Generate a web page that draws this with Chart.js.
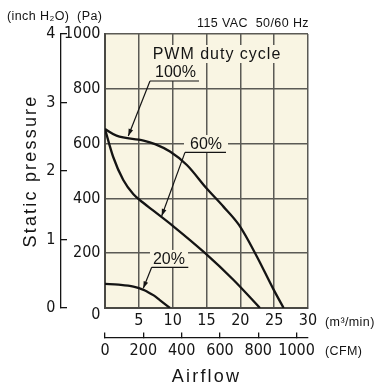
<!DOCTYPE html>
<html>
<head>
<meta charset="utf-8">
<script src="https://cdn.jsdelivr.net/npm/chart.js@4/dist/chart.umd.min.js"></script>
<style>
  html, body { margin: 0; padding: 0; background: #ffffff; }
  #wrap { width: 377px; height: 389px; }
</style>
</head>
<body>
<div id="wrap"><canvas id="c" width="377" height="389"></canvas></div>
<script>
// ---------------- data ----------------
// Airflow in m3/min, static pressure in Pa
const flow100 = [0, 1.7, 5.7, 7.4, 9.6, 12.1, 15.0, 17.5, 19.8, 22.4, 24.9, 26.4];
const pa100   = [653, 629, 611, 598, 571, 522, 437, 370, 303, 190, 68, 0];

const flow60  = [0, 1.2, 2.7, 4.2, 5.6, 7.1, 10.1, 14.8, 19.0, 22.9];
const pa60    = [653, 552, 467, 415, 385, 356, 298, 200, 102, 0];

const flow20  = [0, 2.0, 4.2, 5.7, 6.2, 7.2, 8.1, 9.6];
const pa20    = [88, 85, 78, 66, 60, 46, 29, 0];

// tick values
const m3Ticks   = [0, 5, 10, 15, 20, 25, 30];
const cfmTicks  = [0, 200, 400, 600, 800, 1000];
const paTicks   = [0, 200, 400, 600, 800, 1000];
const inchTicks = [0, 1, 2, 3, 4];

const CFM_PER_M3 = 35.3147;

// ---------------- styles ----------------
const NARROW = "'Liberation Sans Narrow','Arial Narrow','DejaVu Sans Condensed',sans-serif";
const SANS = "'Liberation Sans',Arial,Helvetica,sans-serif";
const INK = '#141414';
const GRID = '#5b5a55';
const PLOT_BG = '#f9f5e3';

// annotation layout (data units of the x / y scales)
const notes = [
  { text: 'PWM duty cycle', at: [7.04, 927], spacing: 1, padX: 2 },
  { text: '100%', at: [7.39, 861], rule: [6.65, 13.89, 828.5], tip: [3.44, 628], spacing: 0, padX: 2 },
  { text: '60%',  at: [12.56, 598.5], rule: [11.82, 17.88, 568], tip: [8.38, 336], spacing: 0, padX: 6 },
  { text: '20%',  at: [7.09, 179], rule: [6.90, 12.31, 148.5], tip: [5.66, 72], spacing: 0, padX: 3 }
];

const toPts = (xs, ys) => xs.map((x, i) => ({ x: x, y: ys[i] }));
const setTicks = arr => scale => { scale.ticks = arr.map(v => ({ value: v })); };

const plotBg = {
  id: 'plotBg',
  beforeDraw(chart) {
    const { ctx, chartArea: a } = chart;
    ctx.save();
    ctx.fillStyle = PLOT_BG;
    ctx.fillRect(a.left, a.top, a.right - a.left, a.bottom - a.top);
    ctx.restore();
    ctx.letterSpacing = '2.2px';   // axis titles (drawn with the grid layer)
  },
  beforeDatasetsDraw(chart) {
    chart.ctx.letterSpacing = '0px'; // tick labels (drawn after datasets)
  }
};

function arrow(ctx, x0, y0, x1, y1) {
  ctx.beginPath();
  ctx.moveTo(x0, y0);
  ctx.lineTo(x1, y1);
  ctx.stroke();
  const ang = Math.atan2(y1 - y0, x1 - x0);
  const L = 7, W = 2.4;
  ctx.beginPath();
  ctx.moveTo(x1, y1);
  ctx.lineTo(x1 - L * Math.cos(ang) + W * Math.sin(ang), y1 - L * Math.sin(ang) - W * Math.cos(ang));
  ctx.lineTo(x1 - L * Math.cos(ang) - W * Math.sin(ang), y1 - L * Math.sin(ang) + W * Math.cos(ang));
  ctx.closePath();
  ctx.fill();
}

const annotations = {
  id: 'annotations',
  afterDraw(chart) {
    const { ctx, chartArea: a } = chart;
    const xs = chart.scales.x, ys = chart.scales.y;
    ctx.save();
    ctx.letterSpacing = '0px';
    ctx.fillStyle = INK;
    ctx.strokeStyle = INK;
    ctx.textBaseline = 'middle';

    // labels on the curves
    ctx.font = '16px ' + SANS;
    notes.forEach(n => {
      ctx.letterSpacing = n.spacing + 'px';
      const px = xs.getPixelForValue(n.at[0]);
      const py = ys.getPixelForValue(n.at[1]);
      const w = ctx.measureText(n.text).width;
      ctx.fillStyle = PLOT_BG;
      ctx.fillRect(px - n.padX, py - 9, w + 2 * n.padX, 18);
      ctx.fillStyle = INK;
      ctx.textAlign = 'left';
      ctx.fillText(n.text, px, py + 1);
      if (n.rule) {
        const rx1 = xs.getPixelForValue(n.rule[0]);
        const rx2 = xs.getPixelForValue(n.rule[1]);
        const ry = ys.getPixelForValue(n.rule[2]);
        ctx.lineWidth = 1.2;
        ctx.beginPath();
        ctx.moveTo(rx1, ry);
        ctx.lineTo(rx2, ry);
        ctx.stroke();
        arrow(ctx, rx1, ry, xs.getPixelForValue(n.tip[0]), ys.getPixelForValue(n.tip[1]));
      }
    });

    // unit captions
    ctx.font = '12.5px ' + SANS;
    ctx.letterSpacing = '0.4px';
    ctx.textAlign = 'left';
    ctx.fillText('(inch H\u2082O)  (Pa)', 7, 17);
    ctx.textAlign = 'right';
    ctx.fillText('115 VAC  50/60 Hz', a.right + 1, 24);
    ctx.textAlign = 'left';
    ctx.fillText('(m\u00B3/min)', a.right + 17, 323);
    ctx.fillText('(CFM)', a.right + 17, 352);
    ctx.restore();
  }
};

const tickFont = { family: NARROW, size: 16 };
const curve = (label, xs, ys) => ({
  label: label,
  data: toPts(xs, ys),
  showLine: true,
  borderColor: INK,
  backgroundColor: INK,
  borderWidth: 2.3,
  pointRadius: 0,
  cubicInterpolationMode: 'monotone'
});

new Chart(document.getElementById('c'), {
  type: 'scatter',
  data: {
    datasets: [
      curve('100%', flow100, pa100),
      curve('60%', flow60, pa60),
      curve('20%', flow20, pa20)
    ]
  },
  options: {
    responsive: false,
    animation: false,
    devicePixelRatio: 1,
    layout: { padding: { top: 34, right: 69, left: 0, bottom: 0 } },
    plugins: { legend: { display: false }, tooltip: { enabled: false } },
    scales: {
      x: {
        type: 'linear', position: 'bottom', weight: 0,
        min: 0, max: 30,
        afterBuildTicks: setTicks(m3Ticks),
        afterFit(s) { s.height = 29.5; },
        grid: { color: GRID, lineWidth: 1.5, drawTicks: false },
        border: { color: '#4a4944', width: 2 },
        ticks: {
          font: tickFont, color: INK, padding: 3, z: 1,
          autoSkip: false, maxRotation: 0,
          callback: v => (v === 0 ? '' : String(v))
        }
      },
      x2: {
        type: 'linear', position: 'bottom', weight: 1,
        min: 0, max: 30 * CFM_PER_M3,
        afterBuildTicks: setTicks(cfmTicks),
        afterFit(s) { s.height = 389 - 337.5; },
        grid: { drawOnChartArea: false, tickLength: -5, color: INK, lineWidth: 1.3 },
        border: { color: INK, width: 1.3 },
        ticks: {
          font: tickFont, color: INK, padding: 8.5, z: 1, autoSkip: false, maxRotation: 0,
          callback: v => String(v)
        },
        title: {
          display: true, text: 'Airflow', color: INK,
          font: { family: SANS, size: 18 },
          padding: { top: 0, bottom: 1.5 }
        }
      },
      y: {
        type: 'linear', position: 'left', weight: 0,
        min: 0, max: 1000,
        afterBuildTicks: setTicks(paTicks),
        afterFit(s) { s.width = 44; },
        grid: { color: GRID, lineWidth: 1.5, drawTicks: false },
        border: { color: '#4a4944', width: 2 },
        ticks: {
          font: { family: NARROW, size: 16, lineHeight: 0.8 }, color: INK, padding: 4.5, z: 1,
          autoSkip: false,
          callback: v => (v === 0 ? ['', '0'] : String(v))
        }
      },
      yIn: {
        type: 'linear', position: 'left', weight: 1,
        min: 0, max: 4,
        afterBuildTicks: setTicks(inchTicks),
        afterFit(s) { s.width = 61; },
        grid: { drawOnChartArea: false, tickLength: -6, color: INK, lineWidth: 1.3 },
        border: { color: INK, width: 1.3 },
        ticks: { font: tickFont, color: INK, padding: 11.5, z: 1, autoSkip: false },
        title: {
          display: true, text: 'Static pressure', color: INK,
          font: { family: SANS, size: 18 },
          padding: { top: 20, bottom: 0 }
        }
      }
    }
  },
  plugins: [plotBg, annotations]
});
</script>
</body>
</html>
